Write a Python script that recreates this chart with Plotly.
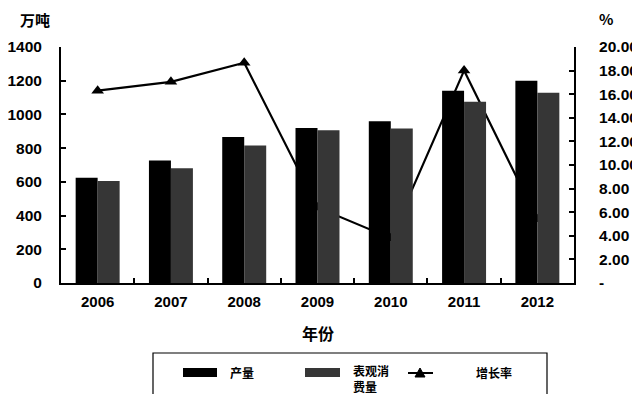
import plotly.graph_objects as go

years = ["2006", "2007", "2008", "2009", "2010", "2011", "2012"]
production = [625, 727, 866, 920, 960, 1140, 1200]
consumption = [605, 681, 816, 906, 916, 1075, 1128]
growth = [16.3, 17.05, 18.66, 6.4, 3.8, 18.0, 5.4]

left_ticks = [0, 200, 400, 600, 800, 1000, 1200, 1400]
right_ticks = [0, 2, 4, 6, 8, 10, 12, 14, 16, 18, 20]
right_ticktext = ["-", "2.00", "4.00", "6.00", "8.00", "10.00", "12.00", "14.00", "16.00", "18.00", "20.00"]

# the page body adds an 8px margin, so the figure is made 8px smaller and placed in page coords
OFF = 8
W, H = 640 - OFF, 394 - OFF
L, R, T, B = 61, 574, 47, 283   # plot area in page pixels

def px(x):
    return (x - L) / (R - L)

def py(y):
    return (B - y) / (B - T)

NUM_FONT = "Liberation Sans, Arial, sans-serif"
CJK_FONT = "Noto Sans CJK SC, sans-serif"

fig = go.Figure()

# growth line on primary (right) axis, drawn beneath the bars
fig.add_trace(go.Scatter(
    x=years, y=growth, mode="lines+markers", name="增长率",
    line=dict(color="black", width=2.2),
    marker=dict(symbol="triangle-up", size=11, color="black"),
    yaxis="y", xaxis="x", showlegend=False,
))

fig.add_trace(go.Bar(
    x=years, y=production, name="产量", marker=dict(color="black", line=dict(width=0)),
    yaxis="y2", xaxis="x", showlegend=False,
))
fig.add_trace(go.Bar(
    x=years, y=consumption, name="表观消费量", marker=dict(color="#363636", line=dict(width=0)),
    yaxis="y2", xaxis="x", showlegend=False,
))

fig.update_layout(
    width=W, height=H,
    margin=dict(l=L - OFF, r=W - (R - OFF), t=T - OFF, b=H - (B - OFF), autoexpand=False),
    paper_bgcolor="white", plot_bgcolor="white",
    barmode="group", bargap=0.4, bargroupgap=0,
    xaxis=dict(
        type="category", showgrid=False, showline=True, linecolor="black", linewidth=2,
        ticks="inside", tickson="boundaries", ticklen=5, tickcolor="black", tickwidth=1.5,
        tickfont=dict(family=NUM_FONT, size=15, color="black", weight="bold"),
        ticklabelstandoff=4,
    ),
    yaxis=dict(
        side="right", range=[0, 20], tickvals=right_ticks, ticktext=right_ticktext,
        showgrid=False, showline=True, linecolor="black", linewidth=2,
        ticks="inside", ticklen=5, tickcolor="black", tickwidth=1.5,
        tickfont=dict(family=NUM_FONT, size=15.5, color="black", weight="bold"),
        ticklabelstandoff=20, zeroline=False,
    ),
    yaxis2=dict(
        side="left", overlaying="y", range=[0, 1400], tickvals=left_ticks,
        showgrid=False, showline=True, linecolor="black", linewidth=2,
        ticks="inside", ticklen=5, tickcolor="black", tickwidth=1.5,
        tickfont=dict(family=NUM_FONT, size=15.5, color="black", weight="bold"),
        ticklabelstandoff=14, zeroline=False,
    ),
)

ann = []
def text(x, y, s, size=15, xanchor="center", align="center"):
    ann.append(dict(x=px(x), y=py(y), xref="paper", yref="paper", text=s, showarrow=False,
                    xanchor=xanchor, yanchor="middle", align=align,
                    font=dict(family=CJK_FONT, size=size, color="black", weight="bold")))

text(35, 19, "万吨", 15)
text(606, 18, "%", 15)
text(318, 333, "年份", 16)
text(242, 373, "产量", 12)
text(351, 378, "表观消<br>费量", 12, xanchor="left", align="left")
text(494, 373, "增长率", 12)
fig.update_layout(annotations=ann)

shapes = []
shapes.append(dict(type="rect", xref="paper", yref="paper", x0=px(153), x1=px(547), y0=py(353), y1=py(400),
                   line=dict(color="black", width=1.2), fillcolor="rgba(0,0,0,0)"))
shapes.append(dict(type="rect", xref="paper", yref="paper", x0=px(183), x1=px(217), y0=py(368), y1=py(377),
                   line=dict(width=0), fillcolor="black"))
shapes.append(dict(type="rect", xref="paper", yref="paper", x0=px(305), x1=px(340), y0=py(368), y1=py(377),
                   line=dict(width=0), fillcolor="#363636"))
shapes.append(dict(type="line", xref="paper", yref="paper", x0=px(408), x1=px(433), y0=py(373), y1=py(373),
                   line=dict(color="black", width=2)))
tri = "M {},{} L {},{} L {},{} Z".format(px(415), py(377), px(425), py(377), px(420), py(368))
shapes.append(dict(type="path", xref="paper", yref="paper", path=tri, fillcolor="black", line=dict(color="black", width=1)))
fig.update_layout(shapes=shapes)

fig.write_html("out.html")
